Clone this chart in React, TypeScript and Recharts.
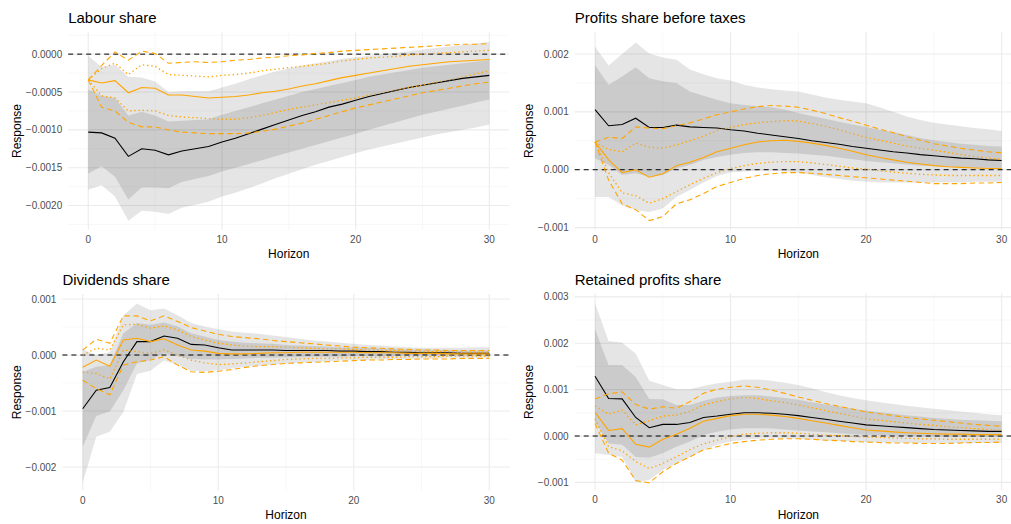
import { ComposedChart, Area, Line, XAxis, YAxis, CartesianGrid, ReferenceLine } from 'recharts';

// horizon (quarters after the shock)
const HORIZON = [0, 1, 2, 3, 4, 5, 6, 7, 8, 9, 10, 11, 12, 13, 14, 15, 16, 17, 18, 19, 20, 21, 22, 23, 24, 25, 26, 27, 28, 29, 30];

// all responses below are in thousandths (x 1e-3)

// Labour share
const labourIrf = [-1.03, -1.04, -1.11, -1.35, -1.25, -1.27, -1.33, -1.28, -1.25, -1.22, -1.16, -1.11, -1.05, -0.99, -0.93, -0.87, -0.81, -0.76, -0.70, -0.66, -0.61, -0.56, -0.52, -0.48, -0.44, -0.41, -0.38, -0.35, -0.32, -0.30, -0.28];
const labourHi95 = [-0.02, -0.17, -0.14, -0.30, -0.31, -0.36, -0.50, -0.49, -0.49, -0.49, -0.44, -0.39, -0.33, -0.28, -0.23, -0.19, -0.15, -0.12, -0.09, -0.06, -0.04, -0.02, 0.00, 0.02, 0.04, 0.06, 0.08, 0.10, 0.12, 0.14, 0.16];
const labourLo95 = [-1.79, -1.73, -1.88, -2.20, -2.07, -2.08, -2.11, -2.03, -1.99, -1.95, -1.88, -1.83, -1.77, -1.71, -1.64, -1.58, -1.52, -1.46, -1.41, -1.36, -1.31, -1.26, -1.22, -1.18, -1.14, -1.10, -1.06, -1.03, -1.00, -0.97, -0.93];
const labourHi68 = [-0.47, -0.55, -0.58, -0.81, -0.76, -0.81, -0.89, -0.88, -0.87, -0.86, -0.80, -0.75, -0.70, -0.65, -0.60, -0.55, -0.50, -0.46, -0.42, -0.38, -0.34, -0.30, -0.27, -0.24, -0.21, -0.18, -0.16, -0.14, -0.12, -0.10, -0.08];
const labourLo68 = [-1.58, -1.48, -1.62, -1.92, -1.76, -1.76, -1.77, -1.69, -1.65, -1.61, -1.55, -1.50, -1.45, -1.40, -1.35, -1.30, -1.25, -1.20, -1.15, -1.10, -1.05, -1.00, -0.95, -0.90, -0.85, -0.80, -0.76, -0.72, -0.68, -0.64, -0.60];
const labourAlt = [-0.34, -0.38, -0.35, -0.51, -0.44, -0.45, -0.54, -0.54, -0.56, -0.58, -0.57, -0.56, -0.54, -0.51, -0.49, -0.46, -0.42, -0.39, -0.35, -0.31, -0.28, -0.25, -0.22, -0.19, -0.16, -0.14, -0.12, -0.10, -0.09, -0.08, -0.07];
const labourAltHi95 = [-0.34, -0.15, 0.03, -0.08, 0.04, 0.01, -0.12, -0.11, -0.10, -0.11, -0.10, -0.08, -0.07, -0.05, -0.04, -0.02, -0.01, 0.01, 0.02, 0.04, 0.05, 0.06, 0.07, 0.08, 0.09, 0.10, 0.11, 0.12, 0.13, 0.13, 0.14];
const labourAltLo95 = [-0.34, -0.70, -0.75, -0.90, -0.96, -0.96, -1.00, -1.03, -1.04, -1.05, -1.05, -1.05, -1.04, -1.02, -0.99, -0.95, -0.91, -0.86, -0.81, -0.76, -0.71, -0.67, -0.63, -0.59, -0.55, -0.51, -0.48, -0.45, -0.42, -0.39, -0.37];
const labourAltHi68 = [-0.34, -0.19, -0.12, -0.27, -0.14, -0.16, -0.27, -0.28, -0.29, -0.30, -0.28, -0.27, -0.25, -0.22, -0.20, -0.18, -0.16, -0.14, -0.12, -0.09, -0.07, -0.05, -0.04, -0.03, -0.01, 0.00, 0.01, 0.02, 0.03, 0.04, 0.05];
const labourAltLo68 = [-0.34, -0.55, -0.58, -0.75, -0.74, -0.75, -0.81, -0.83, -0.84, -0.85, -0.86, -0.86, -0.84, -0.81, -0.77, -0.73, -0.70, -0.67, -0.64, -0.61, -0.58, -0.54, -0.51, -0.47, -0.44, -0.41, -0.37, -0.34, -0.30, -0.26, -0.22];

// Profits share before taxes
const profitsIrf = [1.04, 0.76, 0.78, 0.89, 0.73, 0.73, 0.77, 0.74, 0.73, 0.72, 0.69, 0.67, 0.63, 0.60, 0.57, 0.54, 0.50, 0.47, 0.44, 0.40, 0.37, 0.34, 0.31, 0.29, 0.26, 0.24, 0.22, 0.20, 0.19, 0.17, 0.16];
const profitsHi95 = [2.13, 1.80, 2.00, 2.20, 2.01, 1.94, 1.90, 1.73, 1.65, 1.58, 1.54, 1.47, 1.42, 1.39, 1.37, 1.35, 1.30, 1.25, 1.21, 1.18, 1.15, 1.08, 1.00, 0.92, 0.86, 0.81, 0.78, 0.75, 0.72, 0.70, 0.67];
const profitsLo95 = [-0.47, -0.47, -0.62, -0.70, -0.73, -0.67, -0.47, -0.35, -0.22, -0.11, -0.05, -0.03, -0.02, -0.02, -0.03, -0.05, -0.09, -0.13, -0.16, -0.19, -0.21, -0.22, -0.22, -0.22, -0.22, -0.22, -0.22, -0.22, -0.21, -0.21, -0.21];
const profitsHi68 = [1.81, 1.47, 1.61, 1.77, 1.58, 1.53, 1.50, 1.35, 1.28, 1.21, 1.15, 1.12, 1.10, 1.08, 1.04, 0.98, 0.93, 0.88, 0.83, 0.78, 0.74, 0.69, 0.65, 0.60, 0.55, 0.51, 0.48, 0.45, 0.43, 0.41, 0.40];
const profitsLo68 = [0.20, 0.08, -0.09, -0.06, -0.12, -0.09, 0.02, 0.08, 0.17, 0.22, 0.26, 0.29, 0.30, 0.30, 0.29, 0.28, 0.26, 0.24, 0.21, 0.18, 0.15, 0.13, 0.11, 0.09, 0.07, 0.06, 0.05, 0.04, 0.03, 0.03, 0.02];
const profitsAlt = [0.48, 0.17, -0.05, 0.00, -0.13, -0.07, 0.07, 0.13, 0.21, 0.31, 0.37, 0.43, 0.48, 0.50, 0.51, 0.49, 0.46, 0.42, 0.37, 0.32, 0.26, 0.21, 0.17, 0.13, 0.10, 0.07, 0.05, 0.04, 0.03, 0.02, 0.02];
const profitsAltHi95 = [0.48, 0.56, 0.54, 0.74, 0.72, 0.71, 0.76, 0.81, 0.88, 0.95, 1.00, 1.05, 1.09, 1.11, 1.10, 1.08, 1.03, 0.97, 0.90, 0.84, 0.77, 0.70, 0.64, 0.57, 0.51, 0.45, 0.41, 0.37, 0.34, 0.31, 0.29];
const profitsAltLo95 = [0.48, -0.18, -0.59, -0.69, -0.88, -0.81, -0.59, -0.52, -0.41, -0.29, -0.22, -0.15, -0.10, -0.07, -0.05, -0.05, -0.06, -0.08, -0.10, -0.12, -0.14, -0.16, -0.18, -0.20, -0.22, -0.24, -0.24, -0.24, -0.23, -0.23, -0.22];
const profitsAltHi68 = [0.48, 0.35, 0.31, 0.46, 0.39, 0.37, 0.43, 0.50, 0.58, 0.68, 0.73, 0.78, 0.81, 0.83, 0.85, 0.84, 0.80, 0.75, 0.69, 0.62, 0.56, 0.51, 0.46, 0.41, 0.37, 0.34, 0.30, 0.26, 0.23, 0.20, 0.18];
const profitsAltLo68 = [0.48, -0.05, -0.40, -0.45, -0.58, -0.50, -0.38, -0.26, -0.15, -0.05, 0.02, 0.07, 0.11, 0.13, 0.14, 0.14, 0.12, 0.09, 0.06, 0.03, 0.01, -0.02, -0.04, -0.06, -0.08, -0.09, -0.10, -0.10, -0.10, -0.10, -0.10];

// Dividends share
const dividendsIrf = [-0.96, -0.63, -0.58, -0.12, 0.24, 0.24, 0.34, 0.30, 0.19, 0.18, 0.13, 0.09, 0.09, 0.09, 0.09, 0.08, 0.08, 0.08, 0.08, 0.07, 0.07, 0.06, 0.06, 0.05, 0.05, 0.04, 0.04, 0.04, 0.03, 0.03, 0.03];
const dividendsHi95 = [0.10, 0.00, 0.05, 0.71, 0.92, 0.80, 0.83, 0.71, 0.57, 0.51, 0.46, 0.42, 0.40, 0.38, 0.35, 0.32, 0.29, 0.26, 0.24, 0.22, 0.20, 0.18, 0.17, 0.15, 0.14, 0.13, 0.13, 0.13, 0.13, 0.14, 0.14];
const dividendsLo95 = [-2.28, -1.46, -1.37, -1.02, -0.34, -0.28, -0.10, -0.18, -0.28, -0.29, -0.27, -0.24, -0.21, -0.19, -0.17, -0.15, -0.14, -0.13, -0.11, -0.10, -0.09, -0.09, -0.08, -0.07, -0.07, -0.06, -0.06, -0.05, -0.05, -0.05, -0.05];
const dividendsHi68 = [-0.30, -0.21, -0.18, 0.39, 0.57, 0.54, 0.58, 0.51, 0.39, 0.33, 0.27, 0.24, 0.22, 0.21, 0.20, 0.18, 0.17, 0.16, 0.15, 0.14, 0.14, 0.13, 0.12, 0.11, 0.10, 0.10, 0.09, 0.09, 0.08, 0.08, 0.08];
const dividendsLo68 = [-1.64, -1.09, -1.01, -0.63, -0.15, -0.09, 0.03, -0.02, -0.07, -0.08, -0.08, -0.07, -0.06, -0.05, -0.05, -0.04, -0.04, -0.03, -0.03, -0.03, -0.02, -0.02, -0.02, -0.02, -0.01, -0.01, -0.01, -0.01, -0.01, -0.01, -0.01];
const dividendsAlt = [-0.22, -0.09, -0.20, 0.27, 0.30, 0.24, 0.29, 0.18, 0.09, 0.07, 0.03, 0.02, 0.02, 0.03, 0.04, 0.04, 0.05, 0.05, 0.05, 0.05, 0.05, 0.04, 0.04, 0.04, 0.03, 0.03, 0.03, 0.02, 0.02, 0.02, 0.02];
const dividendsAltHi95 = [0.09, 0.28, 0.21, 0.70, 0.70, 0.61, 0.70, 0.60, 0.49, 0.43, 0.37, 0.33, 0.31, 0.29, 0.26, 0.24, 0.22, 0.20, 0.18, 0.16, 0.14, 0.13, 0.12, 0.11, 0.10, 0.09, 0.09, 0.08, 0.08, 0.08, 0.08];
const dividendsAltLo95 = [-0.45, -0.60, -0.71, -0.18, -0.12, -0.09, -0.03, -0.18, -0.30, -0.31, -0.29, -0.26, -0.22, -0.19, -0.17, -0.15, -0.14, -0.13, -0.12, -0.11, -0.10, -0.09, -0.09, -0.08, -0.08, -0.07, -0.07, -0.07, -0.06, -0.06, -0.06];
const dividendsAltHi68 = [0.00, 0.12, 0.09, 0.54, 0.55, 0.48, 0.52, 0.45, 0.33, 0.27, 0.21, 0.18, 0.16, 0.15, 0.15, 0.14, 0.13, 0.12, 0.11, 0.11, 0.10, 0.09, 0.08, 0.08, 0.07, 0.06, 0.06, 0.06, 0.05, 0.05, 0.05];
const dividendsAltLo68 = [-0.30, -0.33, -0.43, 0.09, 0.06, 0.03, 0.09, 0.00, -0.09, -0.14, -0.17, -0.16, -0.14, -0.12, -0.10, -0.08, -0.07, -0.06, -0.06, -0.05, -0.05, -0.04, -0.04, -0.04, -0.03, -0.03, -0.03, -0.02, -0.02, -0.02, -0.02];

// Retained profits share
const retainedIrf = [1.29, 0.81, 0.80, 0.40, 0.18, 0.25, 0.25, 0.29, 0.40, 0.43, 0.47, 0.50, 0.50, 0.49, 0.47, 0.44, 0.40, 0.36, 0.32, 0.28, 0.24, 0.22, 0.20, 0.18, 0.16, 0.14, 0.13, 0.12, 0.11, 0.10, 0.10];
const retainedHi95 = [2.86, 2.05, 2.01, 1.78, 1.19, 1.10, 1.01, 1.01, 1.08, 1.14, 1.17, 1.22, 1.22, 1.19, 1.15, 1.10, 1.03, 0.95, 0.88, 0.82, 0.77, 0.73, 0.69, 0.65, 0.62, 0.59, 0.56, 0.53, 0.50, 0.47, 0.45];
const retainedLo95 = [-0.37, -0.41, -0.45, -0.99, -0.95, -0.73, -0.59, -0.45, -0.30, -0.19, -0.12, -0.08, -0.06, -0.05, -0.05, -0.06, -0.08, -0.10, -0.11, -0.12, -0.13, -0.14, -0.14, -0.15, -0.15, -0.15, -0.15, -0.15, -0.15, -0.15, -0.15];
const retainedHi68 = [2.30, 1.53, 1.53, 1.27, 0.80, 0.79, 0.67, 0.67, 0.76, 0.83, 0.86, 0.88, 0.88, 0.85, 0.82, 0.78, 0.73, 0.68, 0.64, 0.59, 0.55, 0.51, 0.48, 0.45, 0.42, 0.39, 0.37, 0.35, 0.34, 0.33, 0.32];
const retainedLo68 = [0.31, -0.16, -0.19, -0.45, -0.47, -0.37, -0.23, -0.12, 0.02, 0.09, 0.14, 0.17, 0.17, 0.16, 0.14, 0.12, 0.10, 0.08, 0.06, 0.04, 0.03, 0.02, 0.01, 0.00, -0.01, -0.01, -0.02, -0.02, -0.02, -0.02, -0.02];
const retainedAlt = [0.51, 0.12, 0.16, -0.18, -0.24, -0.07, 0.04, 0.17, 0.32, 0.38, 0.44, 0.47, 0.47, 0.45, 0.42, 0.38, 0.33, 0.28, 0.23, 0.18, 0.13, 0.11, 0.09, 0.07, 0.06, 0.05, 0.04, 0.04, 0.03, 0.03, 0.03];
const retainedAltHi95 = [0.80, 0.91, 0.95, 0.68, 0.58, 0.63, 0.60, 0.74, 0.92, 1.01, 1.05, 1.08, 1.05, 0.99, 0.92, 0.84, 0.77, 0.70, 0.64, 0.58, 0.52, 0.48, 0.44, 0.40, 0.37, 0.34, 0.31, 0.28, 0.25, 0.23, 0.21];
const retainedAltLo95 = [0.27, -0.37, -0.52, -0.96, -1.01, -0.77, -0.59, -0.45, -0.30, -0.23, -0.16, -0.12, -0.09, -0.07, -0.06, -0.06, -0.07, -0.09, -0.10, -0.12, -0.13, -0.14, -0.15, -0.15, -0.16, -0.16, -0.16, -0.15, -0.14, -0.14, -0.13];
const retainedAltHi68 = [0.65, 0.47, 0.56, 0.24, 0.33, 0.43, 0.45, 0.53, 0.67, 0.74, 0.80, 0.83, 0.81, 0.76, 0.72, 0.67, 0.61, 0.55, 0.49, 0.43, 0.37, 0.34, 0.31, 0.28, 0.25, 0.23, 0.20, 0.18, 0.16, 0.14, 0.12];
const retainedAltLo68 = [0.37, -0.23, -0.32, -0.55, -0.70, -0.59, -0.45, -0.29, -0.17, -0.09, -0.01, 0.04, 0.06, 0.07, 0.07, 0.06, 0.04, 0.02, 0.01, -0.01, -0.02, -0.03, -0.04, -0.05, -0.06, -0.06, -0.07, -0.07, -0.07, -0.07, -0.07];

const X_TICKS = [0, 10, 20, 30];
const X_MINOR = [5, 15, 25];

const FONT = '"Liberation Sans", Arial, Helvetica, sans-serif';
const ORANGE = '#FFA500';

type Series = {
  irf: number[]; lo95: number[]; hi95: number[]; lo68: number[]; hi68: number[];
  alt: number[]; altLo95: number[]; altHi95: number[]; altLo68: number[]; altHi68: number[];
};

const buildRows = (s: Series) =>
  HORIZON.map((h, i) => ({
    h,
    band95: [s.lo95[i], s.hi95[i]],
    band68: [s.lo68[i], s.hi68[i]],
    irf: s.irf[i],
    alt: s.alt[i],
    altLo95: s.altLo95[i],
    altHi95: s.altHi95[i],
    altLo68: s.altLo68[i],
    altHi68: s.altHi68[i],
  }));

const panels = [
  {
    title: 'Labour share',
    rows: buildRows({ irf: labourIrf, lo95: labourLo95, hi95: labourHi95, lo68: labourLo68, hi68: labourHi68, alt: labourAlt, altLo95: labourAltLo95, altHi95: labourAltHi95, altLo68: labourAltLo68, altHi68: labourAltHi68 }),
    domain: [-2.32, 0.29], major: [-2, -1.5, -1, -0.5, 0], minor: [-2.25, -1.75, -1.25, -0.75, -0.25, 0.25], digits: 4,
    left: 0, top: 0, plotLeft: 68.2, plotRight: 509.4, plotTop: 32.2, plotBottom: 229.8,
  },
  {
    title: 'Profits share before taxes',
    rows: buildRows({ irf: profitsIrf, lo95: profitsLo95, hi95: profitsHi95, lo68: profitsLo68, hi68: profitsHi68, alt: profitsAlt, altLo95: profitsAltLo95, altHi95: profitsAltHi95, altLo68: profitsAltLo68, altHi68: profitsAltHi68 }),
    domain: [-1.04, 2.38], major: [-1, 0, 1, 2], minor: [-0.5, 0.5, 1.5], digits: 3,
    left: 505, top: 0, plotLeft: 574.7, plotRight: 1022, plotTop: 32, plotBottom: 229.9,
  },
  {
    title: 'Dividends share',
    rows: buildRows({ irf: dividendsIrf, lo95: dividendsLo95, hi95: dividendsHi95, lo68: dividendsLo68, hi68: dividendsHi68, alt: dividendsAlt, altLo95: dividendsAltLo95, altHi95: dividendsAltHi95, altLo68: dividendsAltLo68, altHi68: dividendsAltHi68 }),
    domain: [-2.42, 1.09], major: [-2, -1, 0, 1], minor: [-1.5, -0.5, 0.5], digits: 3,
    left: 0, top: 262, plotLeft: 62.4, plotRight: 509.6, plotTop: 294, plotBottom: 490.5,
  },
  {
    title: 'Retained profits share',
    rows: buildRows({ irf: retainedIrf, lo95: retainedLo95, hi95: retainedHi95, lo68: retainedLo68, hi68: retainedHi68, alt: retainedAlt, altLo95: retainedAltLo95, altHi95: retainedAltHi95, altLo68: retainedAltLo68, altHi68: retainedAltHi68 }),
    domain: [-1.17, 3.07], major: [-1, 0, 1, 2, 3], minor: [-0.5, 0.5, 1.5, 2.5], digits: 3,
    left: 505, top: 262, plotLeft: 574.7, plotRight: 1022, plotTop: 293.6, plotBottom: 490.3,
  },
];

const fmt = (digits: number) => (v: number) => (v / 1000).toFixed(digits).replace('-', '\u2212');

function Panel({ p }: { p: (typeof panels)[number] }) {
  const yw = p.plotLeft - p.left;
  const width = p.plotRight - p.left;
  const height = p.plotBottom - p.top + 24;
  const lineProps = { type: 'linear' as const, dot: false, activeDot: false, isAnimationActive: false };
  return (
    <div style={{ position: 'absolute', left: p.left, top: p.top }}>
      <ComposedChart width={width} height={height} data={p.rows} margin={{ top: p.plotTop - p.top, right: 0, bottom: 0, left: 0 }}>
        <CartesianGrid stroke="#f3f3f3" strokeWidth={0.6} horizontalValues={p.minor} verticalValues={X_MINOR} />
        <CartesianGrid stroke="#ebebeb" strokeWidth={1.1} horizontalValues={p.major} verticalValues={X_TICKS} />
        <XAxis dataKey="h" type="number" domain={[-1.5, 31.5]} ticks={X_TICKS} axisLine={false} tickLine={false}
          tickSize={0} tickMargin={6} height={24} allowDataOverflow
          tick={{ fill: '#4d4d4d', fontSize: 10, fontFamily: FONT }} />
        <YAxis type="number" domain={p.domain} ticks={p.major} width={yw} axisLine={false} tickLine={false}
          tickSize={0} tickMargin={6} allowDataOverflow tickFormatter={fmt(p.digits)}
          tick={{ fill: '#4d4d4d', fontSize: 10, fontFamily: FONT }} />
        <Area dataKey="band95" type="linear" stroke="none" fill="#000" fillOpacity={0.1} isAnimationActive={false} dot={false} activeDot={false} />
        <Area dataKey="band68" type="linear" stroke="none" fill="#000" fillOpacity={0.11} isAnimationActive={false} dot={false} activeDot={false} />
        <ReferenceLine y={0} stroke="#000" strokeWidth={1} strokeDasharray="5 4" />
        <Line dataKey="irf" stroke="#000" strokeWidth={1.1} {...lineProps} />
        <Line dataKey="alt" stroke={ORANGE} strokeWidth={1.1} {...lineProps} />
        <Line dataKey="altHi95" stroke={ORANGE} strokeWidth={1.1} strokeDasharray="5.5 3.5" {...lineProps} />
        <Line dataKey="altLo95" stroke={ORANGE} strokeWidth={1.1} strokeDasharray="5.5 3.5" {...lineProps} />
        <Line dataKey="altHi68" stroke={ORANGE} strokeWidth={1.3} strokeDasharray="1.4 2.8" {...lineProps} />
        <Line dataKey="altLo68" stroke={ORANGE} strokeWidth={1.3} strokeDasharray="1.4 2.8" {...lineProps} />
      </ComposedChart>
    </div>
  );
}

export default function App() {
  return (
    <div style={{ position: 'relative', width: 1011, height: 524, overflow: 'hidden', background: '#fff', fontFamily: FONT }}>
      <style>{'body{margin:0}'}</style>
      {panels.map((p) => <Panel key={p.title} p={p} />)}
      <svg width={1011} height={524} style={{ position: 'absolute', left: 0, top: 0, pointerEvents: 'none' }} fontFamily={FONT}>
        {panels.map((p) => {
          const cy = (p.plotTop + p.plotBottom) / 2;
          const cx = (p.plotLeft + p.plotRight) / 2;
          const labelX = p.left === 0 ? 20.5 : 533.3;
          return (
            <g key={p.title}>
              <text x={p.plotLeft} y={p.top + 23.3} fontSize={15} fill="#000">{p.title}</text>
              <text x={labelX} y={cy} fontSize={12} fill="#000" textAnchor="middle" transform={`rotate(-90 ${labelX} ${cy})`}>Response</text>
              <text x={cx} y={p.plotBottom + 28.5} fontSize={12} fill="#000" textAnchor="middle">Horizon</text>
            </g>
          );
        })}
      </svg>
    </div>
  );
}
